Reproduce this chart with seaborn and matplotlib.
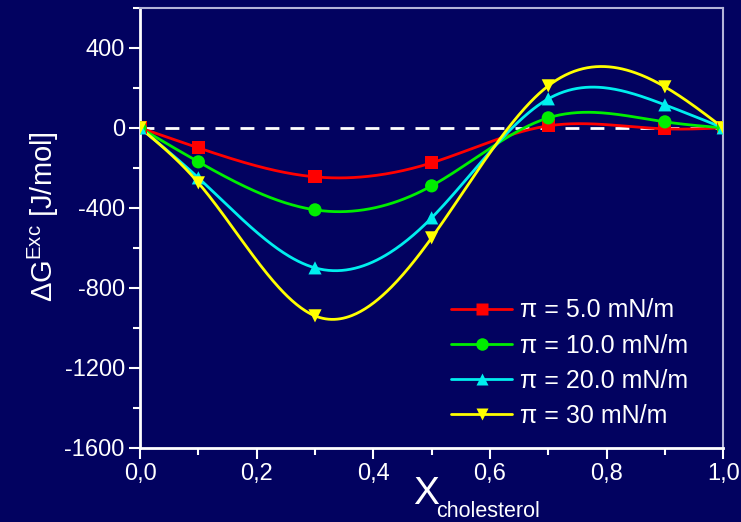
import numpy as np
import pandas as pd
import matplotlib
matplotlib.use("Agg")
import matplotlib.pyplot as plt
from matplotlib.lines import Line2D
from matplotlib.ticker import MultipleLocator, FuncFormatter
import seaborn as sns

x_chol = [0.0, 0.1, 0.3, 0.5, 0.7, 0.9, 1.0]
g_5 = [0, -100, -245, -175, 10, -5, 0]
g_10 = [0, -170, -410, -290, 50, 30, 0]
g_20 = [0, -250, -700, -450, 145, 115, 0]
g_30 = [0, -275, -940, -550, 210, 205, 0]
labels = ["\u03c0 = 5.0 mN/m", "\u03c0 = 10.0 mN/m", "\u03c0 = 20.0 mN/m", "\u03c0 = 30 mN/m"]
colors = ["#ff0000", "#00ee00", "#00eeee", "#ffff00"]
markers = ["s", "o", "^", "v"]

BG = "#020260"
sns.set_theme(style="white")
plt.rcParams["font.family"] = ["Liberation Sans", "DejaVu Sans"]
plt.rcParams["mathtext.fontset"] = "custom"
plt.rcParams["mathtext.rm"] = "Liberation Sans"
plt.rcParams["mathtext.it"] = "Liberation Sans"


def natural_spline(x, y, xs):
    x = np.asarray(x, float); y = np.asarray(y, float)
    n = len(x); h = np.diff(x)
    A = np.zeros((n, n)); r = np.zeros(n)
    A[0, 0] = 1; A[-1, -1] = 1
    for i in range(1, n - 1):
        A[i, i - 1] = h[i - 1]; A[i, i] = 2 * (h[i - 1] + h[i]); A[i, i + 1] = h[i]
        r[i] = 3 * ((y[i + 1] - y[i]) / h[i] - (y[i] - y[i - 1]) / h[i - 1])
    c = np.linalg.solve(A, r)
    b = (y[1:] - y[:-1]) / h - h * (2 * c[:-1] + c[1:]) / 3
    d = (c[1:] - c[:-1]) / (3 * h)
    idx = np.clip(np.searchsorted(x, xs) - 1, 0, n - 2)
    dx = xs - x[idx]
    return y[idx] + b[idx] * dx + c[idx] * dx ** 2 + d[idx] * dx ** 3


series = [g_5, g_10, g_20, g_30]
pts = pd.DataFrame({
    "x": np.tile(x_chol, 4),
    "g": np.concatenate(series),
    "s": np.repeat(labels, len(x_chol)),
})
xs = np.linspace(0, 1, 400)
curves = pd.DataFrame({
    "x": np.tile(xs, 4),
    "g": np.concatenate([natural_spline(x_chol, s, xs) for s in series]),
    "s": np.repeat(labels, len(xs)),
})

fig = plt.figure(figsize=(7.41, 5.22), dpi=100, facecolor=BG)
ax = fig.add_axes([0.189, 0.142, 0.787, 0.843])
ax.set_facecolor(BG)

ax.axhline(0, color="white", lw=2, ls=(0, (5, 4)), zorder=1)
pal = dict(zip(labels, colors))
sns.lineplot(data=curves, x="x", y="g", hue="s", palette=pal, lw=2, ax=ax,
             legend=False, sort=False, zorder=2)
for lab, m in zip(labels, markers):
    sub = pts[pts["s"] == lab]
    sns.scatterplot(data=sub, x="x", y="g", color=pal[lab], marker=m, s=90,
                    edgecolor="none", ax=ax, legend=False, zorder=3)

ax.set_xlim(0, 1)
ax.set_ylim(-1600, 600)
ax.xaxis.set_major_locator(MultipleLocator(0.2))
ax.xaxis.set_minor_locator(MultipleLocator(0.1))
ax.yaxis.set_major_locator(MultipleLocator(400))
ax.yaxis.set_minor_locator(MultipleLocator(200))
ax.xaxis.set_major_formatter(FuncFormatter(lambda v, p: f"{v:.1f}".replace(".", ",")))
ax.yaxis.set_major_formatter(FuncFormatter(lambda v, p: f"{v:.0f}"))
ax.tick_params(axis="both", which="major", direction="out", length=8, width=1.5,
               colors="white", labelsize=17, bottom=True, left=True, pad=3)
ax.tick_params(axis="both", which="minor", direction="out", length=5, width=1.5,
               colors="white", bottom=True, left=True)
for sp in ["left", "bottom"]:
    ax.spines[sp].set_color("white"); ax.spines[sp].set_linewidth(2)
for sp in ["top", "right"]:
    ax.spines[sp].set_color("#b4b4d8"); ax.spines[sp].set_linewidth(1.5)
ax.set_xlabel(""); ax.set_ylabel("")

fig.text(0.058, 0.585, r"$\Delta$G$^{\mathrm{Exc}}$ [J/mol]", rotation=90,
         color="white", fontsize=21, ha="center", va="center")
fig.text(0.558, 0.035, "X", color="white", fontsize=28, ha="left", va="baseline")
fig.text(0.589, 0.01, "cholesterol", color="white", fontsize=15.5, ha="left", va="baseline")

handles = [Line2D([0], [0], color=c, marker=m, lw=2, markersize=9, markeredgecolor="none")
           for c, m in zip(colors, markers)]
ax.legend(handles, labels, loc="upper left", bbox_to_anchor=(0.533, 0.34), frameon=False,
          fontsize=18, labelcolor="white", handlelength=2.45, labelspacing=0.45,
          handletextpad=0.3, borderpad=0, borderaxespad=0)

fig.savefig("out.png", dpi=100, facecolor=BG)
